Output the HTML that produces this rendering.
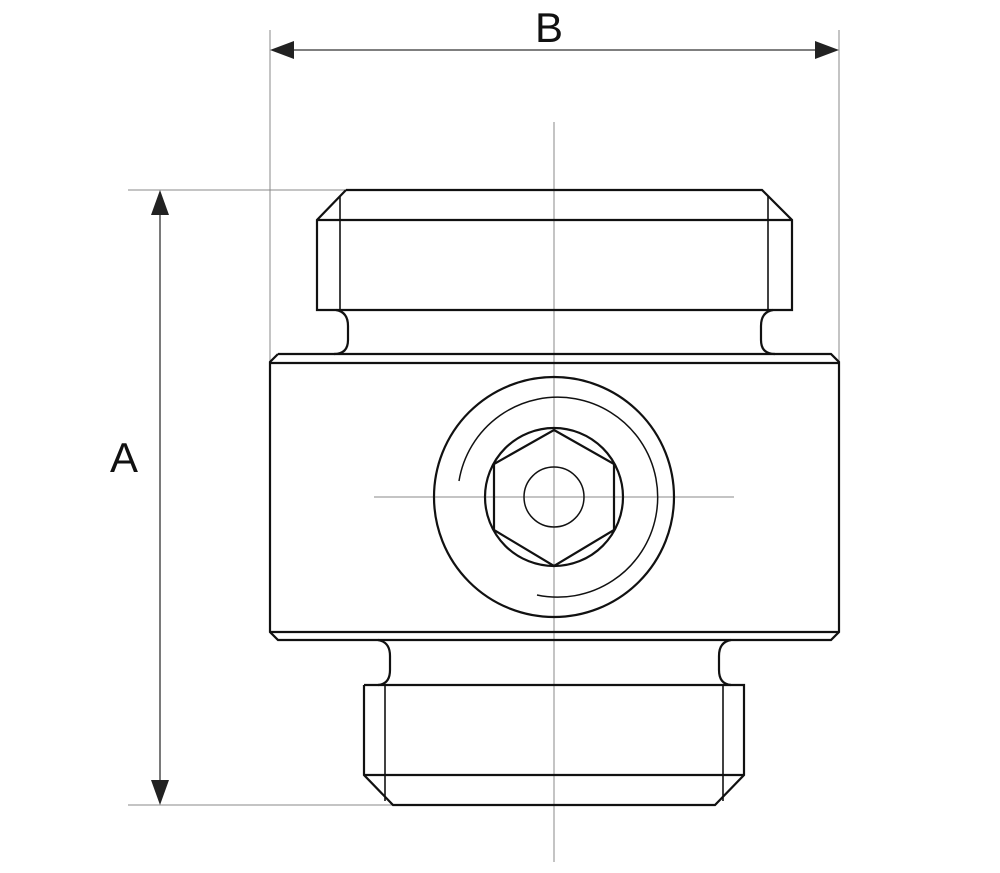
<!DOCTYPE html>
<html><head><style>html,body{margin:0;padding:0;background:#fff}svg{display:block}</style></head>
<body>
<svg width="1000" height="873" viewBox="0 0 1000 873" xmlns="http://www.w3.org/2000/svg">
<g stroke="#888" stroke-width="1" fill="none">
<line x1="270" y1="30" x2="270" y2="363"/>
<line x1="839" y1="30" x2="839" y2="363"/>
<line x1="128" y1="190" x2="346" y2="190"/>
<line x1="128" y1="805" x2="393" y2="805"/>
<line x1="554" y1="122" x2="554" y2="862"/>
<line x1="374" y1="497" x2="734" y2="497"/>
</g>
<g stroke="#333" stroke-width="1.3" fill="none">
<line x1="280" y1="50" x2="829" y2="50"/>
<line x1="160" y1="200" x2="160" y2="795"/>
</g>
<g fill="#222">
<polygon points="270,50 294,41 294,59"/>
<polygon points="839,50 815,41 815,59"/>
<polygon points="160,190 151,215 169,215"/>
<polygon points="160,805 151,780 169,780"/>
</g>
<g stroke="#111" stroke-width="2.2" fill="none" stroke-linejoin="miter">
<!-- top nut -->
<polyline points="346,190 762,190 792,220 792,310 317,310 317,220 346,190"/>
<line x1="317" y1="220" x2="792" y2="220"/>
<line x1="340" y1="196" x2="340" y2="310" stroke-width="1.6"/>
<line x1="768" y1="196" x2="768" y2="310" stroke-width="1.6"/>
<path d="M336,310 Q348,312 348,326 L348,340 Q348,354 334,354"/>
<path d="M773,310 Q761,312 761,326 L761,340 Q761,354 775,354"/>
<!-- body -->
<polyline points="278,354 831,354 839,362 839,632 831,640 278,640 270,632 270,362 278,354"/>
<line x1="270" y1="363" x2="839" y2="363"/>
<line x1="270" y1="632" x2="839" y2="632"/>
<!-- bottom neck -->
<path d="M378,640 Q390,642 390,656 L390,670 Q390,684 378,685"/>
<path d="M731,640 Q719,642 719,656 L719,670 Q719,684 731,685"/>
<!-- bottom nut -->
<polyline points="364,685 744,685 744,775 715,805 393,805 364,775 364,685"/>
<line x1="364" y1="775" x2="744" y2="775"/>
<line x1="385" y1="685" x2="385" y2="801" stroke-width="1.6"/>
<line x1="723" y1="685" x2="723" y2="801" stroke-width="1.6"/>
<!-- circles -->
<circle cx="554" cy="497" r="120"/>
<circle cx="554" cy="497" r="69"/>
<polygon points="554,430 614,464 614,530 554,566 494,530 494,464"/>
</g>
<g stroke="#111" stroke-width="1.5" fill="none">
<circle cx="554" cy="497" r="30"/>
<path d="M459,481 A100,100 0 1 1 537,595"/>
</g>
<g font-family="Liberation Sans, sans-serif" font-size="42" fill="#111">
<text x="535" y="42">B</text>
<text x="110" y="472">A</text>
</g>
</svg>
</body></html>
